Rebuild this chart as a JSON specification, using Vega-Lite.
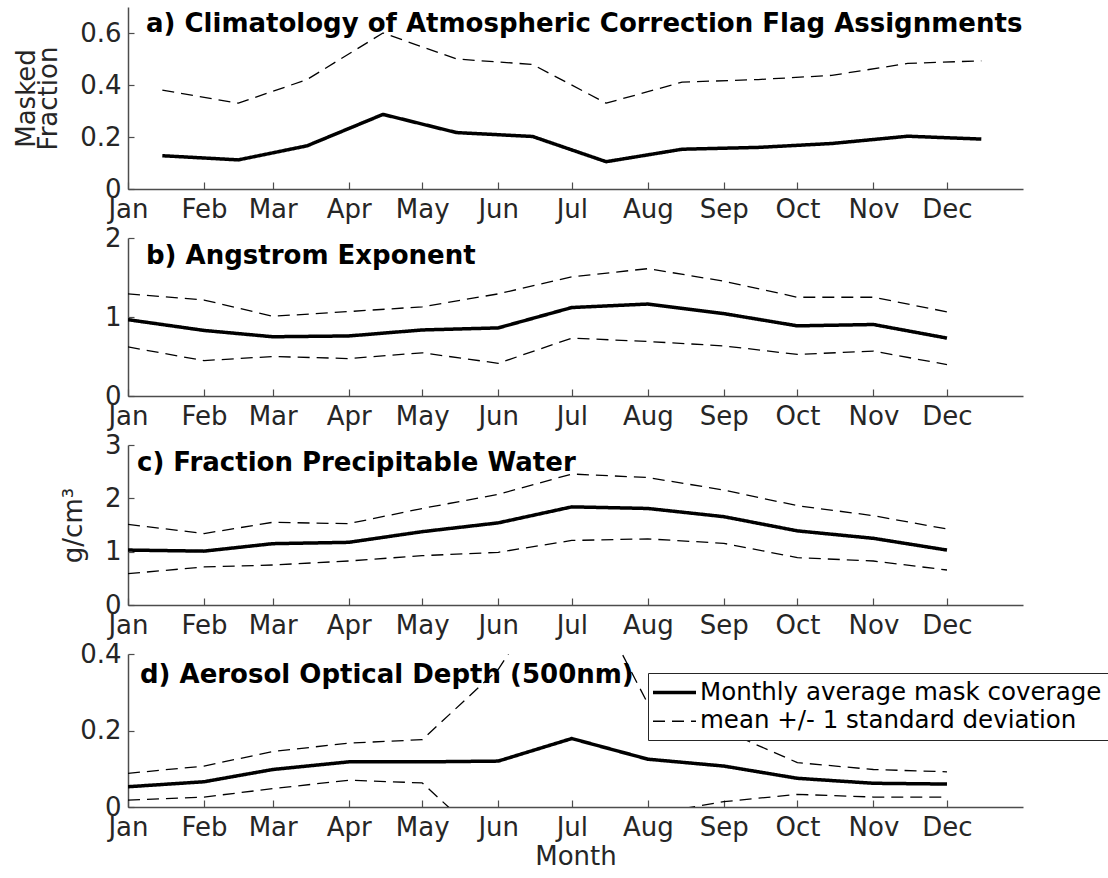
{
  "$schema": "https://vega.github.io/schema/vega-lite/v6.json",
  "autosize": {"type": "pad"},
  "padding": {"left": 13, "top": 7, "right": 0, "bottom": 4},
  "background": "white",
  "bounds": "flush",
  "spacing": 49,
  "datasets": {
    "kinds": [
      {"line": "mean", "kind": "Monthly average mask coverage"},
      {"line": "upper", "kind": "mean +/- 1 standard deviation"},
      {"line": "lower", "kind": "mean +/- 1 standard deviation"}
    ],
    "a": [
      {"date": "2001-01-15", "mean": 0.128, "upper": 0.38, "lower": -0.124},
      {"date": "2001-02-15", "mean": 0.112, "upper": 0.33, "lower": -0.106},
      {"date": "2001-03-15", "mean": 0.166, "upper": 0.421, "lower": -0.089},
      {"date": "2001-04-15", "mean": 0.287, "upper": 0.6, "lower": -0.026},
      {"date": "2001-05-15", "mean": 0.217, "upper": 0.5, "lower": -0.066},
      {"date": "2001-06-15", "mean": 0.202, "upper": 0.479, "lower": -0.075},
      {"date": "2001-07-15", "mean": 0.105, "upper": 0.33, "lower": -0.12},
      {"date": "2001-08-15", "mean": 0.153, "upper": 0.411, "lower": -0.105},
      {"date": "2001-09-15", "mean": 0.16, "upper": 0.421, "lower": -0.101},
      {"date": "2001-10-15", "mean": 0.175, "upper": 0.437, "lower": -0.087},
      {"date": "2001-11-15", "mean": 0.203, "upper": 0.483, "lower": -0.077},
      {"date": "2001-12-15", "mean": 0.192, "upper": 0.493, "lower": -0.109}
    ],
    "b": [
      {"date": "2001-01-01", "mean": 0.966, "upper": 1.293, "lower": 0.621},
      {"date": "2001-02-01", "mean": 0.83, "upper": 1.215, "lower": 0.448},
      {"date": "2001-03-01", "mean": 0.75, "upper": 1.009, "lower": 0.5},
      {"date": "2001-04-01", "mean": 0.76, "upper": 1.069, "lower": 0.474},
      {"date": "2001-05-01", "mean": 0.836, "upper": 1.129, "lower": 0.547},
      {"date": "2001-06-01", "mean": 0.862, "upper": 1.293, "lower": 0.414},
      {"date": "2001-07-01", "mean": 1.12, "upper": 1.509, "lower": 0.733},
      {"date": "2001-08-01", "mean": 1.164, "upper": 1.612, "lower": 0.69},
      {"date": "2001-09-01", "mean": 1.043, "upper": 1.453, "lower": 0.634},
      {"date": "2001-10-01", "mean": 0.888, "upper": 1.25, "lower": 0.526},
      {"date": "2001-11-01", "mean": 0.905, "upper": 1.25, "lower": 0.569},
      {"date": "2001-12-01", "mean": 0.733, "upper": 1.065, "lower": 0.397}
    ],
    "c": [
      {"date": "2001-01-01", "mean": 1.03, "upper": 1.51, "lower": 0.588},
      {"date": "2001-02-01", "mean": 1.01, "upper": 1.34, "lower": 0.713},
      {"date": "2001-03-01", "mean": 1.15, "upper": 1.55, "lower": 0.75},
      {"date": "2001-04-01", "mean": 1.175, "upper": 1.525, "lower": 0.825},
      {"date": "2001-05-01", "mean": 1.375, "upper": 1.81, "lower": 0.925},
      {"date": "2001-06-01", "mean": 1.54, "upper": 2.075, "lower": 0.988},
      {"date": "2001-07-01", "mean": 1.84, "upper": 2.456, "lower": 1.21},
      {"date": "2001-08-01", "mean": 1.81, "upper": 2.39, "lower": 1.24},
      {"date": "2001-09-01", "mean": 1.656, "upper": 2.156, "lower": 1.156},
      {"date": "2001-10-01", "mean": 1.39, "upper": 1.862, "lower": 0.888},
      {"date": "2001-11-01", "mean": 1.25, "upper": 1.675, "lower": 0.825},
      {"date": "2001-12-01", "mean": 1.03, "upper": 1.425, "lower": 0.656}
    ],
    "d": [
      {"date": "2001-01-01", "mean": 0.053, "upper": 0.088, "lower": 0.018},
      {"date": "2001-02-01", "mean": 0.066, "upper": 0.107, "lower": 0.026},
      {"date": "2001-03-01", "mean": 0.098, "upper": 0.145, "lower": 0.048},
      {"date": "2001-04-01", "mean": 0.118, "upper": 0.167, "lower": 0.07},
      {"date": "2001-05-01", "mean": 0.118, "upper": 0.176, "lower": 0.063},
      {"date": "2001-06-01", "mean": 0.12, "upper": 0.36, "lower": -0.12},
      {"date": "2001-07-01", "mean": 0.179, "upper": 0.655, "lower": -0.297},
      {"date": "2001-08-01", "mean": 0.125, "upper": 0.27, "lower": -0.02},
      {"date": "2001-09-01", "mean": 0.107, "upper": 0.2, "lower": 0.014},
      {"date": "2001-10-01", "mean": 0.075, "upper": 0.116, "lower": 0.033},
      {"date": "2001-11-01", "mean": 0.062, "upper": 0.098, "lower": 0.026},
      {"date": "2001-12-01", "mean": 0.06, "upper": 0.092, "lower": 0.026}
    ]
  },
  "config": {
    "view": {"stroke": null},
    "font": "DejaVu Sans",
    "axis": {
      "grid": false,
      "domainColor": "#4d4d4d",
      "domainWidth": 1.5,
      "tickColor": "#4d4d4d",
      "tickWidth": 1.2,
      "labelFont": "DejaVu Sans",
      "labelFontSize": 26,
      "labelColor": "#262626",
      "titleFont": "DejaVu Sans",
      "titleFontSize": 26,
      "titleFontWeight": "normal",
      "titleColor": "#262626"
    },
    "axisX": {"tickSize": -7, "labelPadding": 14, "labelFlush": false, "labelOverlap": false},
    "axisY": {"tickSize": -6, "labelPadding": 13, "titlePadding": 18, "titleLineHeight": 22},
    "title": {
      "anchor": "start",
      "frame": "group",
      "offset": 0,
      "baseline": "alphabetic",
      "font": "DejaVu Sans",
      "fontSize": 26,
      "fontWeight": "bold",
      "color": "black"
    },
    "legend": {
      "labelFont": "DejaVu Sans",
      "labelFontSize": 24.5,
      "labelColor": "black",
      "labelLimit": 0,
      "symbolStrokeColor": "black",
      "padding": 7,
      "rowPadding": 4,
      "fillColor": "white",
      "strokeColor": "#262626"
    }
  },
  "resolve": {"legend": {"strokeDash": "independent", "strokeWidth": "independent"}},
  "vconcat": [
    {
      "width": 895,
      "height": 182,
      "data": {"name": "a"},
      "transform": [
        {"fold": ["mean", "upper", "lower"], "as": ["line", "value"]},
        {"lookup": "line", "from": {"data": {"name": "kinds"}, "key": "line", "fields": ["kind"]}}
      ],
      "title": {"text": "a) Climatology of Atmospheric Correction Flag Assignments", "dx": 18, "dy": 34},
      "mark": {"type": "line", "clip": true, "color": "black", "strokeJoin": "round"},
      "encoding": {
        "x": {
          "field": "date", "type": "temporal",
          "scale": {"type": "utc", "nice": false, "domain": [{"year": 2001, "month": 1, "date": 1, "utc": true}, {"year": 2002, "month": 1, "date": 1, "utc": true}]},
          "axis": {"title": null, "format": "%b", "values": [
            {"year": 2001, "month": 1, "date": 1, "utc": true}, {"year": 2001, "month": 2, "date": 1, "utc": true},
            {"year": 2001, "month": 3, "date": 1, "utc": true}, {"year": 2001, "month": 4, "date": 1, "utc": true},
            {"year": 2001, "month": 5, "date": 1, "utc": true}, {"year": 2001, "month": 6, "date": 1, "utc": true},
            {"year": 2001, "month": 7, "date": 1, "utc": true}, {"year": 2001, "month": 8, "date": 1, "utc": true},
            {"year": 2001, "month": 9, "date": 1, "utc": true}, {"year": 2001, "month": 10, "date": 1, "utc": true},
            {"year": 2001, "month": 11, "date": 1, "utc": true}, {"year": 2001, "month": 12, "date": 1, "utc": true}]}
        },
        "y": {
          "field": "value", "type": "quantitative",
          "scale": {"domain": [0, 0.7], "nice": false, "zero": false},
          "axis": {"values": [0, 0.2, 0.4, 0.6], "format": "~g", "title": ["Masked", "Fraction"]}
        },
        "detail": {"field": "line", "type": "nominal"},
        "strokeDash": {"field": "kind", "type": "nominal", "scale": {"domain": ["Monthly average mask coverage", "mean +/- 1 standard deviation"], "range": [[1, 0], [12, 7]]}, "legend": null},
        "strokeWidth": {"field": "kind", "type": "nominal", "scale": {"type": "ordinal", "domain": ["Monthly average mask coverage", "mean +/- 1 standard deviation"], "range": [3.5, 1.3]}, "legend": null}
      }
    },
    {
      "width": 895,
      "height": 158,
      "data": {"name": "b"},
      "transform": [
        {"fold": ["mean", "upper", "lower"], "as": ["line", "value"]},
        {"lookup": "line", "from": {"data": {"name": "kinds"}, "key": "line", "fields": ["kind"]}}
      ],
      "title": {"text": "b) Angstrom Exponent", "dx": 18, "dy": 48},
      "mark": {"type": "line", "clip": true, "color": "black", "strokeJoin": "round"},
      "encoding": {
        "x": {
          "field": "date", "type": "temporal",
          "scale": {"type": "utc", "nice": false, "domain": [{"year": 2001, "month": 1, "date": 1, "utc": true}, {"year": 2002, "month": 1, "date": 1, "utc": true}]},
          "axis": {"title": null, "format": "%b", "values": [
            {"year": 2001, "month": 1, "date": 1, "utc": true}, {"year": 2001, "month": 2, "date": 1, "utc": true},
            {"year": 2001, "month": 3, "date": 1, "utc": true}, {"year": 2001, "month": 4, "date": 1, "utc": true},
            {"year": 2001, "month": 5, "date": 1, "utc": true}, {"year": 2001, "month": 6, "date": 1, "utc": true},
            {"year": 2001, "month": 7, "date": 1, "utc": true}, {"year": 2001, "month": 8, "date": 1, "utc": true},
            {"year": 2001, "month": 9, "date": 1, "utc": true}, {"year": 2001, "month": 10, "date": 1, "utc": true},
            {"year": 2001, "month": 11, "date": 1, "utc": true}, {"year": 2001, "month": 12, "date": 1, "utc": true}]}
        },
        "y": {
          "field": "value", "type": "quantitative",
          "scale": {"domain": [0, 2], "nice": false, "zero": false},
          "axis": {"values": [0, 1, 2], "format": "~g", "title": null}
        },
        "detail": {"field": "line", "type": "nominal"},
        "strokeDash": {"field": "kind", "type": "nominal", "scale": {"domain": ["Monthly average mask coverage", "mean +/- 1 standard deviation"], "range": [[1, 0], [12, 7]]}, "legend": null},
        "strokeWidth": {"field": "kind", "type": "nominal", "scale": {"type": "ordinal", "domain": ["Monthly average mask coverage", "mean +/- 1 standard deviation"], "range": [3.5, 1.3]}, "legend": null}
      }
    },
    {
      "width": 895,
      "height": 160,
      "data": {"name": "c"},
      "transform": [
        {"fold": ["mean", "upper", "lower"], "as": ["line", "value"]},
        {"lookup": "line", "from": {"data": {"name": "kinds"}, "key": "line", "fields": ["kind"]}}
      ],
      "title": {"text": "c) Fraction Precipitable Water", "dx": 9, "dy": 48},
      "mark": {"type": "line", "clip": true, "color": "black", "strokeJoin": "round"},
      "encoding": {
        "x": {
          "field": "date", "type": "temporal",
          "scale": {"type": "utc", "nice": false, "domain": [{"year": 2001, "month": 1, "date": 1, "utc": true}, {"year": 2002, "month": 1, "date": 1, "utc": true}]},
          "axis": {"title": null, "format": "%b", "values": [
            {"year": 2001, "month": 1, "date": 1, "utc": true}, {"year": 2001, "month": 2, "date": 1, "utc": true},
            {"year": 2001, "month": 3, "date": 1, "utc": true}, {"year": 2001, "month": 4, "date": 1, "utc": true},
            {"year": 2001, "month": 5, "date": 1, "utc": true}, {"year": 2001, "month": 6, "date": 1, "utc": true},
            {"year": 2001, "month": 7, "date": 1, "utc": true}, {"year": 2001, "month": 8, "date": 1, "utc": true},
            {"year": 2001, "month": 9, "date": 1, "utc": true}, {"year": 2001, "month": 10, "date": 1, "utc": true},
            {"year": 2001, "month": 11, "date": 1, "utc": true}, {"year": 2001, "month": 12, "date": 1, "utc": true}]}
        },
        "y": {
          "field": "value", "type": "quantitative",
          "scale": {"domain": [0, 3], "nice": false, "zero": false},
          "axis": {"values": [0, 1, 2, 3], "format": "~g", "title": "g/cm³"}
        },
        "detail": {"field": "line", "type": "nominal"},
        "strokeDash": {"field": "kind", "type": "nominal", "scale": {"domain": ["Monthly average mask coverage", "mean +/- 1 standard deviation"], "range": [[1, 0], [12, 7]]}, "legend": null},
        "strokeWidth": {"field": "kind", "type": "nominal", "scale": {"type": "ordinal", "domain": ["Monthly average mask coverage", "mean +/- 1 standard deviation"], "range": [3.5, 1.3]}, "legend": null}
      }
    },
    {
      "width": 895,
      "height": 153,
      "data": {"name": "d"},
      "transform": [
        {"fold": ["mean", "upper", "lower"], "as": ["line", "value"]},
        {"lookup": "line", "from": {"data": {"name": "kinds"}, "key": "line", "fields": ["kind"]}}
      ],
      "title": {"text": "d) Aerosol Optical Depth (500nm)", "dx": 12, "dy": 51},
      "mark": {"type": "line", "clip": true, "color": "black", "strokeJoin": "round"},
      "encoding": {
        "x": {
          "field": "date", "type": "temporal",
          "scale": {"type": "utc", "nice": false, "domain": [{"year": 2001, "month": 1, "date": 1, "utc": true}, {"year": 2002, "month": 1, "date": 1, "utc": true}]},
          "axis": {"title": "Month", "titlePadding": 3, "format": "%b", "values": [
            {"year": 2001, "month": 1, "date": 1, "utc": true}, {"year": 2001, "month": 2, "date": 1, "utc": true},
            {"year": 2001, "month": 3, "date": 1, "utc": true}, {"year": 2001, "month": 4, "date": 1, "utc": true},
            {"year": 2001, "month": 5, "date": 1, "utc": true}, {"year": 2001, "month": 6, "date": 1, "utc": true},
            {"year": 2001, "month": 7, "date": 1, "utc": true}, {"year": 2001, "month": 8, "date": 1, "utc": true},
            {"year": 2001, "month": 9, "date": 1, "utc": true}, {"year": 2001, "month": 10, "date": 1, "utc": true},
            {"year": 2001, "month": 11, "date": 1, "utc": true}, {"year": 2001, "month": 12, "date": 1, "utc": true}]}
        },
        "y": {
          "field": "value", "type": "quantitative",
          "scale": {"domain": [0, 0.4], "nice": false, "zero": false},
          "axis": {"values": [0, 0.2, 0.4], "format": "~g", "title": null}
        },
        "detail": {"field": "line", "type": "nominal"},
        "strokeDash": {"field": "kind", "type": "nominal", "scale": {"domain": ["Monthly average mask coverage", "mean +/- 1 standard deviation"], "range": [[1, 0], [12, 7]]}, "legend": {"title": null, "orient": "none", "legendX": 520, "legendY": 19, "direction": "vertical", "symbolType": "M-2,0H2", "symbolSize": 462, "symbolOffset": 7, "labelOffset": 13}},
        "strokeWidth": {"field": "kind", "type": "nominal", "scale": {"type": "ordinal", "domain": ["Monthly average mask coverage", "mean +/- 1 standard deviation"], "range": [3.5, 1.3]}, "legend": {"title": null, "orient": "none", "legendX": 520, "legendY": 19, "direction": "vertical", "symbolType": "M-2,0H2", "symbolSize": 462, "symbolOffset": 7, "labelOffset": 13}}
      }
    }
  ]
}
